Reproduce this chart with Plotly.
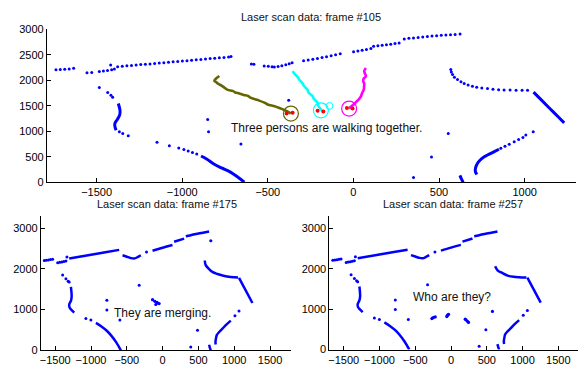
import plotly.graph_objects as go

# ---------------- Frame #105 (top) ----------------
f105_dots_x = [-1737,-1712,-1686,-1660,-1634,
               -1556,-1528,
               -1484,-1460,-1436,-1412,-1396,-1418,
               -1377,-1350,-1323,-1296,-1269,-1242,-1215,-1188,-1161,-1134,-1107,-1080,-1053,-1026,-999,-972,-945,-918,-891,-864,-837,-810,-783,-756,-729,-715,
               -596,-581,-521,-497,-475,-462,-440,-418,-395,-375,-358,
               -291,-264,-237,-210,-183,-157,-130,-104,-77,
               1,26,51,76,102,
               118,143,168,193,218,243,267,
               297,324,351,378,405,432,459,486,513,540,567,594,623,
               569,572,579,590,608,628,647,670,695,720,750,783,815,848,880,915,950,985,1017,
               861,885,910,939,965,990,1007,1050,
               554,456,351,
               -1484,-1435,-1416,-1406,
               -1367,-1347,-1315,
               -851,-846,-657,-378,
               -1147,-1075,-1020,-990,-965,-940,-915]
f105_dots_y = [2203,2209,2216,2222,2235,
               2146,2152,
               2171,2180,2192,2203,2222,2296,
               2266,2272,2283,2290,2297,2306,2313,2320,2330,2337,2344,2353,2360,2369,2377,2384,2391,2400,2408,2417,2424,2431,2440,2447,2455,2463,
               2317,2314,2279,2275,2266,2260,2268,2285,2303,2322,2341,
               2380,2397,2412,2427,2445,2460,2478,2500,2520,
               2558,2575,2590,2604,2620,
               2664,2674,2685,2695,2705,2718,2729,
               2810,2821,2830,2840,2850,2857,2866,2874,2880,2887,2893,2899,2905,
               2209,2160,2114,2060,2013,1972,1937,1905,1880,1860,1846,1836,1825,1815,1810,1806,1804,1804,1804,
               665,705,745,795,835,875,925,988,
               955,494,89,
               1855,1760,1703,1665,
               988,955,912,
               1228,988,747,1608,
               784,716,671,640,610,580,550]

f105_curves = {
    "diag":  ([1052,1100,1150,1200,1231], [1766,1605,1436,1268,1164]),
    "br":    ([721,713,712,716,725,738,756,783,820,850], [150,200,255,310,370,425,480,532,595,645]),
    "small": ([622,630,641], [133,70,-6]),
    "s":     ([-1373,-1363,-1365,-1377,-1392,-1394,-1386], [1544,1400,1320,1240,1160,1114,1020]),
    "arc":   ([-890,-855,-815,-770,-718,-680,-637], [513,450,355,280,196,110,0]),
}

olive_x = [-783,-800,-812,-802,-790,-770,-752,-734,-705,-690,-676,-640,-615,-598,-550,-520,-501,-460,-440,-423,-395,-375,-365]
olive_y = [2083,2040,1988,1965,1930,1895,1850,1810,1790,1760,1747,1712,1690,1652,1600,1560,1525,1490,1465,1443,1400,1367,1350]
cyan_x = [-355,-345,-326,-318,-297,-290,-267,-262,-238,-230,-209,-205,-190,-185]
cyan_y = [2178,2130,2064,2020,1937,1890,1810,1760,1684,1630,1557,1500,1430,1400]
mag_x = [73,63,68,73,60,57,63,62,60,50,44,30,15,0,-15,-25]
mag_y = [2241,2180,2127,2080,2032,1980,1937,1870,1810,1740,1684,1620,1570,1520,1481,1443]
circ_x = [-365,-190,-25]
circ_y = [1345,1410,1443]
circ_colors = ["#666600", "#00ffff", "#ff00ff"]
red_x = [-390,-355,-209,-176,-38,-5]
red_y = [1345,1360,1399,1386,1456,1443]

# ---------------- Frames #175 / #257 (bottom, shared room) ----------------
env_dots_x = [-1653,-1625,-1595,-1566,-1537,-1466,-1437,-1408,-1380,-1351,-1337,
              -225,487,393,-597,-1397,-1351,-1320,-1305,-1072,-1002,-779,-779,-328]
env_dots_y = [2207,2215,2222,2230,2240,2153,2163,2173,2183,2193,2295,
              2414,491,80,745,1851,1757,1700,1678,783,745,1227,990,1600]
env_curves = {
    "wall1": ([-1305,-1000,-800,-607], [2255,2350,2410,2468]),
    "dip":   ([-560,-500,-450,-398,-350,-305], [2335,2300,2270,2255,2290,2335]),
    "wall2": ([-141,0,138], [2445,2520,2587]),
    "wall3": ([160,300], [2668,2746]),
    "wall4": ([324,500,649], [2801,2870,2920]),
    "diag":  ([1067,1254], [1780,1163]),
    "br":    ([742,738,745,756,790,836,890,952], [140,200,290,373,450,532,630,729]),
    "small": ([649,660,673], [135,60,0]),
    "s":     ([-1281,-1271,-1280,-1305,-1300,-1281,-1235], [1559,1322,1220,1125,1050,1006,926]),
    "arc":   ([-932,-850,-780,-723,-650,-583], [674,580,480,373,200,0]),
}
env_br_dots_x = [1010,1067]
env_br_dots_y = [850,966]

f175_right_x = [589,600,649,700,766,850,950,1054]
f175_right_y = [2207,2100,1994,1920,1875,1830,1800,1790]
f175_dots_x = [673,-141,-109,-71,-49,-95,-80]
f175_dots_y = [2692,1244,1203,1163,1149,1125,1180]

f257_right_x = [617,650,709,802,900,988,1054]
f257_right_y = [2059,1960,1900,1821,1795,1781,1780]
f257_dots_x = [-268,-255,-240,-220,-59,-52,-44,-35,198,210,230,244,579]
f257_dots_y = [767,785,800,808,815,840,858,872,753,735,700,672,943]

titles = ["Laser scan data: frame #105", "Laser scan data: frame #175", "Laser scan data: frame #257"]
notes = ["Three persons are walking together.", "They are merging.", "Who are they?"]
note_pos = [(-160, 1063), (3, 911), (11, 1306)]

BLUE = "#0000ff"
fig = go.Figure()

def dots(x, y, ax, size=3.0, color=BLUE):
    fig.add_trace(go.Scatter(x=x, y=y, mode="markers", xaxis="x" + ax, yaxis="y" + ax,
                             marker=dict(color=color, size=size, line_width=0),
                             showlegend=False, hoverinfo="skip"))

def curve(x, y, ax, width=3.0, color=BLUE):
    fig.add_trace(go.Scatter(x=x, y=y, mode="lines", xaxis="x" + ax, yaxis="y" + ax,
                             line=dict(color=color, width=width, shape="spline"),
                             showlegend=False, hoverinfo="skip"))

# top
dots(f105_dots_x, f105_dots_y, "")
for cx, cy in f105_curves.values():
    curve(cx, cy, "")
curve(olive_x, olive_y, "", width=2.6, color="#666600")
curve(cyan_x, cyan_y, "", width=2.6, color="#00ffff")
curve(mag_x, mag_y, "", width=2.6, color="#ff00ff")
for i in range(3):
    fig.add_trace(go.Scatter(x=[circ_x[i]], y=[circ_y[i]], mode="markers",
                             marker=dict(symbol="circle-open", size=15, color=circ_colors[i],
                                         line=dict(color=circ_colors[i], width=1.2)),
                             showlegend=False, hoverinfo="skip"))
fig.add_trace(go.Scatter(x=[-140], y=[1494], mode="markers",
                         marker=dict(symbol="circle-open", size=7, color="#00ffff",
                                     line=dict(color="#00ffff", width=1)),
                         showlegend=False, hoverinfo="skip"))
dots(red_x, red_y, "", size=4, color="#ff0000")

# bottom
for ax, rx, ry, px, py in [("2", f175_right_x, f175_right_y, f175_dots_x, f175_dots_y),
                           ("3", f257_right_x, f257_right_y, f257_dots_x, f257_dots_y)]:
    for cx, cy in env_curves.values():
        curve(cx, cy, ax, width=2.5)
    curve(rx, ry, ax, width=2.5)
    dots(env_dots_x, env_dots_y, ax, size=3.0)
    dots(env_br_dots_x, env_br_dots_y, ax, size=3.0)
    dots(px, py, ax, size=3.2)

FONT = "Liberation Sans, Arial, Helvetica, sans-serif"
axis_common = dict(showline=True, linecolor="black", linewidth=1, ticks="inside", ticklen=4,
                   tickcolor="black", showgrid=False, zeroline=False,
                   tickfont=dict(family=FONT, size=11, color="black"))
W, H = 578, 374
fig.update_layout(
    width=W, height=H, margin=dict(l=0, r=0, t=0, b=0),
    paper_bgcolor="white", plot_bgcolor="white",
    xaxis=dict(domain=[46/W, 576/W], range=[-1790, 1300], anchor="y",
               tickvals=[-1500, -1000, -500, 0, 500, 1000], **axis_common),
    yaxis=dict(domain=[(H-182)/H, (H-24)/H], range=[0, 3000], anchor="x",
               tickvals=[0, 500, 1000, 1500, 2000, 2500, 3000], **axis_common),
    xaxis2=dict(domain=[40/W, 291/W], range=[-1700, 1800], anchor="y2",
                tickvals=[-1500, -1000, -500, 0, 500, 1000, 1500], **axis_common),
    yaxis2=dict(domain=[(H-355.7)/H, (H-217)/H], range=[0, 3300], anchor="x2",
                tickvals=[0, 1000, 2000, 3000], **axis_common),
    xaxis3=dict(domain=[329/W, 1.0], range=[-1700, 1775], anchor="y3",
                tickvals=[-1500, -1000, -500, 0, 500, 1000, 1500], **axis_common),
    yaxis3=dict(domain=[(H-355)/H, (H-217)/H], range=[0, 3300], anchor="x3",
                tickvals=[0, 1000, 2000, 3000], **axis_common),
)

title_pos = [(311/W, (H-11)/H), (166/W, (H-205)/H), (453/W, (H-205)/H)]
for t, (x, y) in zip(titles, title_pos):
    fig.add_annotation(text=t, x=x, y=y, xref="paper", yref="paper", showarrow=False,
                       xanchor="center", yanchor="middle",
                       font=dict(family=FONT, size=11, color="#111111"))
for t, (x, y), ax in zip(notes, note_pos, ["", "2", "3"]):
    fig.add_annotation(text=t, x=x, y=y, xref="x" + ax, yref="y" + ax, showarrow=False,
                       xanchor="center", yanchor="middle",
                       font=dict(family=FONT, size=12, color="#111111"))

fig.write_html("out.html", config={"displayModeBar": False},
               post_script="document.body.style.margin='0';document.body.style.overflow='hidden';")
